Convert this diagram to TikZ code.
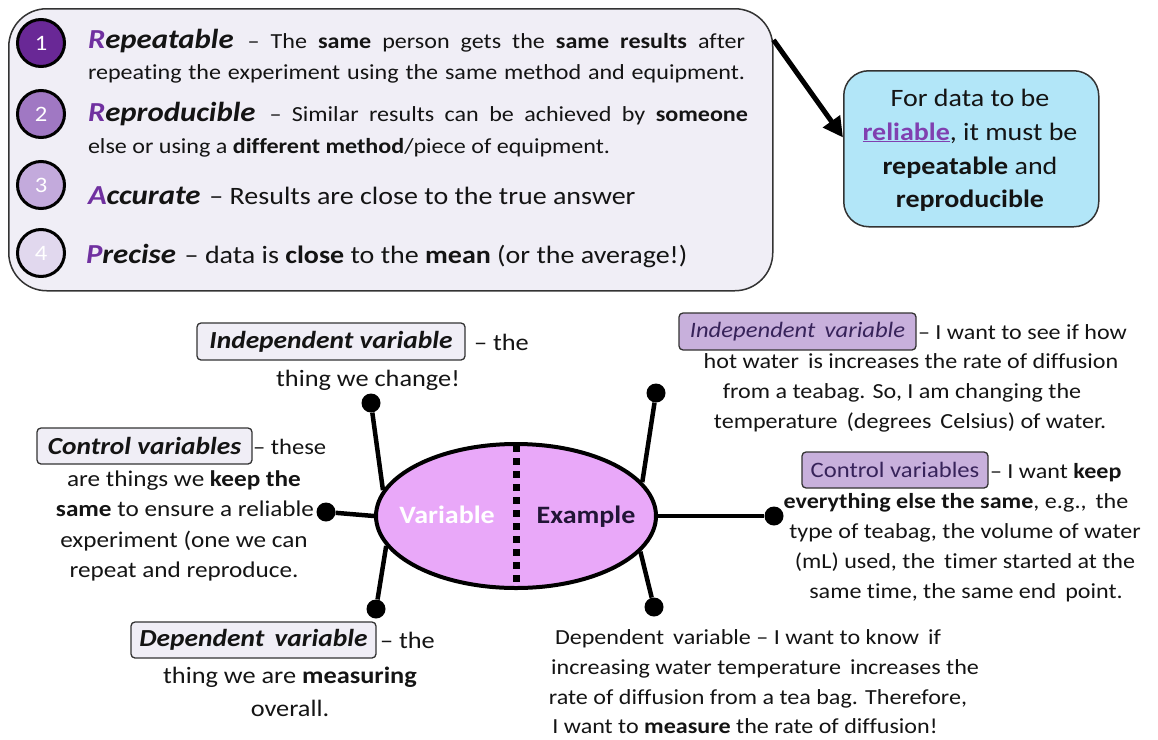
\documentclass[tikz,border=0pt]{standalone}
\usepackage{fontspec}
\setmainfont{Carlito}[FakeStretch=1.12, Ligatures={TeX,NoCommon}]
\usetikzlibrary{shapes.geometric,arrows.meta}
\newcommand\myfs[2]{\fontsize{#1}{#2}\selectfont}
\newcommand\hd[2]{{\myfs{27.5}{30}\bfseries\itshape{\color{hp}#1}#2}}
\definecolor{hp}{RGB}{112,48,160}
\definecolor{topfill}{RGB}{240,238,246}
\definecolor{cA}{RGB}{105,40,150}
\definecolor{cB}{RGB}{160,120,195}
\definecolor{cC}{RGB}{195,170,220}
\definecolor{cD}{RGB}{225,216,238}
\definecolor{bluefill}{RGB}{178,230,248}
\definecolor{rel}{RGB}{128,64,176}
\definecolor{ellfill}{RGB}{233,168,249}
\definecolor{rbfill}{RGB}{200,176,220}
\definecolor{rbtext}{RGB}{55,35,90}
\definecolor{ink}{RGB}{20,20,20}
\begin{document}
\begin{tikzpicture}[x=1pt,y=-1pt,
  txt/.style={inner sep=0pt, outer sep=0pt, text=ink},
  numc/.style={circle, draw=black, line width=3pt, minimum size=47pt, inner sep=0pt, text=white, font=\myfs{22}{24}},
  lbox/.style={draw=black!80, line width=1.3pt, rounded corners=4pt, fill=topfill, inner sep=0pt, text=ink, font=\myfs{24.5}{27}\bfseries\itshape},
  rbox/.style={draw=black!80, line width=1.3pt, rounded corners=4pt, fill=rbfill, inner sep=0pt, text=rbtext},
  dotn/.style={circle, fill=black, minimum size=19pt, inner sep=0pt},
  spoke/.style={line width=4.5pt},
  bodyL/.style={txt, anchor=base, font=\myfs{23.5}{28}},
  bodyC/.style={txt, anchor=base, font=\myfs{22.5}{27}},
  bodyR/.style={txt, anchor=base, font=\myfs{21.5}{25}}
]
\useasboundingbox (0,0) rectangle (1158,739);

% ---------- top box ----------
\node[draw=black!80, line width=1.5pt, rounded corners=38pt, fill=topfill, minimum width=764pt, minimum height=282pt, inner sep=0pt, anchor=north west] (topbox) at (8,8) {};

\node[numc, fill=cA] (n1) at (41,43) {1};
\node[numc, fill=cB] (n2) at (41,114) {2};
\node[numc, fill=cC] (n3) at (41,185) {3};
\node[numc, fill=cD] (n4) at (41,253) {4};

\node[txt, anchor=base west] (r1a) at (88,48) {\makebox[657pt][s]{\hd{R}{epeatable}\hspace{14pt}{\myfs{21.5}{24}– The \textbf{same} person gets the \textbf{same results} after}}};
\node[txt, anchor=base west, font=\myfs{21.5}{24}] (r1b) at (88,79) {\makebox[657pt][s]{repeating the experiment using the same method and equipment.}};
\node[txt, anchor=base west] (r2a) at (88,121) {\makebox[660pt][s]{\hd{R}{eproducible}\hspace{14pt}{\myfs{21.5}{24}– Similar results can be achieved by \textbf{someone}}}};
\node[txt, anchor=base west, font=\myfs{21.5}{24}] (r2b) at (88,153) {else or using a \textbf{different method}/piece of equipment.};
\node[txt, anchor=base west] (r3) at (88,204) {\hd{A}{ccurate} {\myfs{25}{28} – Results are close to the true answer}};
\node[txt, anchor=base west] (r4) at (86,263) {\hd{P}{recise} {\myfs{25}{28} – data is \textbf{close} to the \textbf{mean} (or the average!)}};

% ---------- blue box ----------
\node[draw=black!80, line width=1.5pt, rounded corners=25pt, fill=bluefill, minimum width=255pt, minimum height=156pt, inner sep=0pt, anchor=north west] (blue) at (843,70) {};
\node[txt, anchor=base, font=\myfs{25}{30}] (b1) at (970,106) {For data to be};
\node[txt, anchor=base, font=\myfs{25}{30}] (b2) at (970,140) {{\color{rel}\textbf{\underline{reliable}}}, it must be};
\node[txt, anchor=base, font=\myfs{25}{30}] (b3) at (970,174) {\textbf{repeatable} and};
\node[txt, anchor=base, font=\myfs{25}{30}] (b4) at (970,207) {\textbf{reproducible}};

\draw[line width=5pt, -{Triangle[length=20pt,width=20pt]}] (topbox.16) -- (blue.175);

% ---------- ellipse ----------
\node[ellipse, draw=black, line width=4pt, fill=ellfill, minimum width=280pt, minimum height=144pt, inner sep=0pt] (ell) at (516,516) {};
\draw[line width=7pt, dash pattern=on 7pt off 6pt] ([yshift=-3pt]ell.north) -- ([yshift=3pt]ell.south);
\node[txt, text=white, font=\myfs{25}{28}\bfseries] (vtxt) at (447,515) {Variable};
\node[txt, text=rbtext!60!black, font=\myfs{25}{28}\bfseries] (etxt) at (586,517) {Example};

\node[dotn] (d1) at (371,403) {};
\node[dotn] (d2) at (326,512) {};
\node[dotn] (d3) at (376,609) {};
\node[dotn] (d4) at (656,393) {};
\node[dotn] (d5) at (774,516) {};
\node[dotn] (d6) at (654,607) {};
\draw[spoke] (d1) -- (ell.169);
\draw[spoke] (d2) -- (ell.180);
\draw[spoke] (d3) -- (ell.193);
\draw[spoke] (d4) -- (ell.15);
\draw[spoke] (d5) -- (ell.0);
\draw[spoke] (d6) -- (ell.344);

% ---------- left labels ----------
\node[lbox, minimum width=268pt, minimum height=37pt] (iv) at (331,341.5) {Independent variable};
\node[txt, anchor=base west, font=\myfs{23.5}{28}] (iv1) at (474,350) {– the};
\node[bodyL] (iv2) at (368,386) {thing we change!};

\node[lbox, minimum width=215pt, minimum height=36pt] (cv) at (144.5,446) {Control variables};
\node[txt, anchor=base west, font=\myfs{22}{26}] (cv1) at (253,454) {– these};
\node[bodyC] (cv2) at (184,486) {are things we \textbf{keep the}};
\node[bodyC] (cv3) at (185,516) {\textbf{same} to ensure a reliable};
\node[bodyC] (cv4) at (184,547) {experiment (one we can};
\node[bodyC] (cv5) at (184,577) {repeat and reproduce.};

\node[lbox, minimum width=245pt, minimum height=36pt] (dv) at (253.5,640) {Dependent\, variable};
\node[txt, anchor=base west, font=\myfs{23.5}{28}] (dv1) at (380,648) {– the};
\node[bodyL] (dv2) at (290,683) {thing we are \textbf{measuring}};
\node[bodyL] (dv3) at (290,716) {overall.};

% ---------- right labels ----------
\node[rbox, minimum width=237pt, minimum height=37pt, font=\myfs{22}{24}\itshape] (riv) at (797.5,331.5) {Independent\, variable};
\node[txt, anchor=base west, font=\myfs{21.5}{25}] (riv1) at (918,339) {– I want to see if how};
\node[bodyR] (riv2) at (911,368) {hot water\, is increases the rate of diffusion};
\node[bodyR] (riv3) at (902,398) {from a teabag. So, I am changing the};
\node[bodyR] (riv4) at (910,428) {temperature\, (degrees\, Celsius) of water.};

\node[rbox, minimum width=186pt, minimum height=36pt, font=\myfs{22}{24}] (rcv) at (895,470) {Control variables};
\node[txt, anchor=base west, font=\myfs{21.5}{25}] (rcv1) at (990,478) {– I want \textbf{keep}};
\node[bodyR] (rcv2) at (956,508) {\textbf{everything else the same}, e.g.,\, the};
\node[bodyR] (rcv3) at (965,538) {type of teabag, the volume of water};
\node[bodyR] (rcv4) at (965,568) {(mL) used, the\, timer started at the};
\node[bodyR] (rcv5) at (966,598) {same time, the same end\, point.};

\node[bodyR] (rdv1) at (748,644) {Dependent\, variable – I want to know\, if};
\node[bodyR] (rdv2) at (765,674) {increasing water temperature\, increases the};
\node[bodyR] (rdv3) at (758,704) {rate of diffusion from a tea bag. Therefore,};
\node[bodyR] (rdv4) at (745,733) {I want to \textbf{measure} the rate of diffusion!};
\end{tikzpicture}
\end{document}
